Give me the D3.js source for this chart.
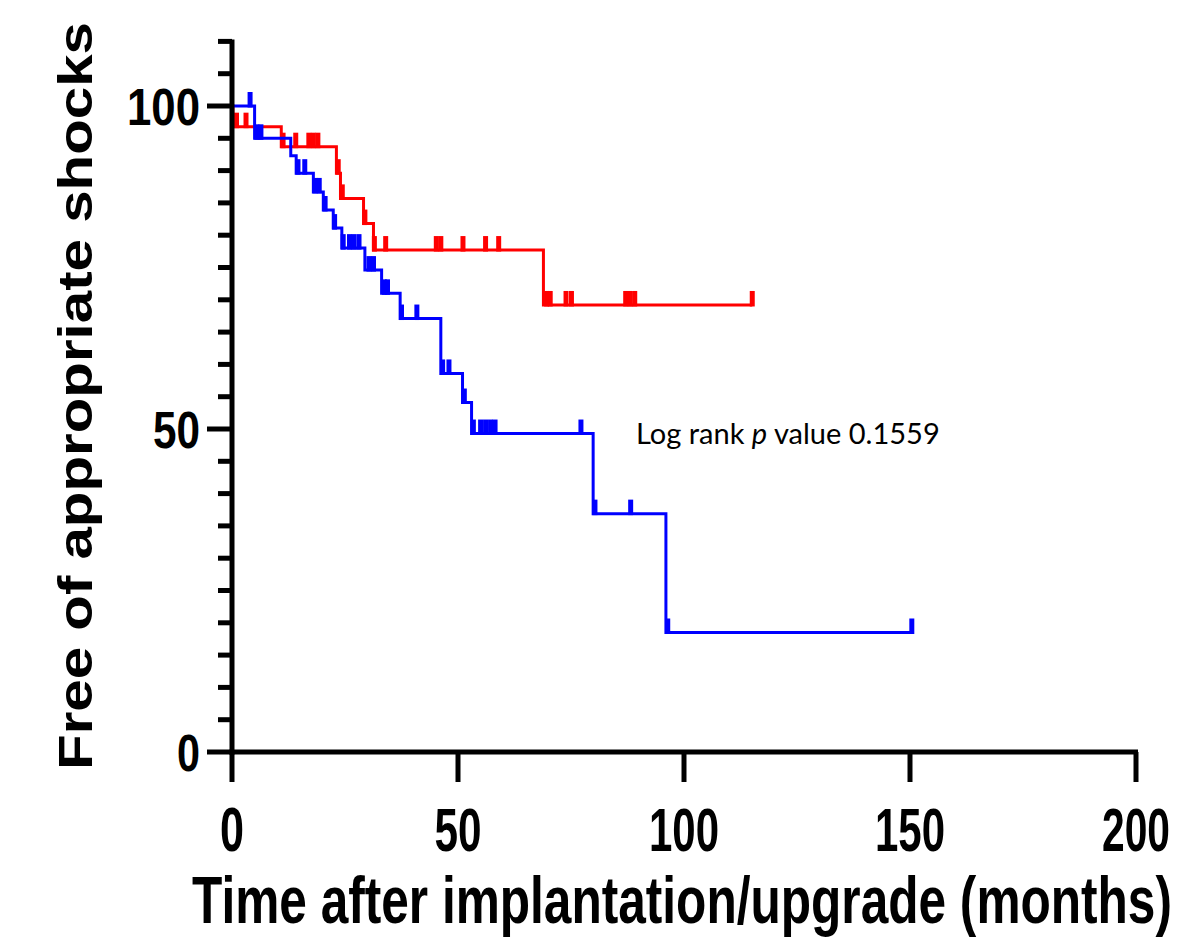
<!DOCTYPE html>
<html>
<head>
<meta charset="utf-8">
<script src="https://cdn.jsdelivr.net/npm/d3@7"></script>
<style>
  body { margin: 0; background: #fff; }
  svg { display: block; }
  .bold { font-family: "Liberation Sans", Arial, sans-serif; font-weight: bold; fill: #000; }
  .note { font-family: Lato, "Open Sans", sans-serif; fill: #000; }
</style>
</head>
<body>
<div id="chart"></div>
<script>
// Kaplan-Meier steps: time (months) where each level starts, and the level
var redTimes = [0, 0.2, 10.9, 23.1, 24.0, 29.1, 31.3, 68.9, 115.1];
var redSurv  = [100, 96.8, 93.7, 89.6, 85.7, 81.8, 77.7, 69.2, 69.2];
var redCensor = [1.0, 3.1, 11.3, 14.1, 17.0, 18.0, 19.0, 23.5, 24.4, 29.4, 31.5, 34.0,
                 45.2, 46.2, 51.1, 56.1, 59.0, 69.6, 70.4, 73.9, 75.1, 87.1, 88.1, 89.1, 115.1];

var blueTimes = [0, 5.0, 13.0, 14.2, 18.0, 20.2, 22.4, 24.3, 29.4, 33.1, 37.2, 46.2, 51.0, 53.0, 79.9, 96.0, 150.4];
var blueSurv  = [100, 95.0, 92.3, 89.6, 86.7, 83.9, 81.1, 78.0, 74.6, 71.0, 67.1, 58.6, 54.1, 49.3, 36.9, 18.5, 18.5];
var blueCensor = [4.0, 5.5, 6.4, 14.6, 16.1, 18.4, 19.3, 20.6, 22.7, 24.6, 26.0, 27.0, 28.1,
                  30.3, 31.3, 33.7, 34.4, 37.5, 40.9, 46.6, 48.0, 51.4, 53.4, 55.0, 56.1, 57.2, 58.2,
                  77.2, 80.3, 88.2, 96.4, 150.4];

var xTicks = [0, 50, 100, 150, 200];
var yMajor = [0, 50, 100];
var yMinor = d3.range(0, 111, 5);

var xLabelWidths = {0: 24, 50: 47, 100: 70, 150: 70, 200: 68};
var yLabelWidths = {0: 23, 50: 47, 100: 73};

var W = 1183, H = 947;

function survAt(times, surv, t) {
  var i = d3.bisectRight(times, t) - 1;
  return surv[Math.max(0, i)];
}

// sets the font so the text is `width` wide, then stretches it vertically
// so the glyphs are as tall as they would be at `size`
function fitText(parent, cls, str, tx, ty, rot, anchor, size, width) {
  var t = parent.append("text")
    .attr("class", cls)
    .attr("text-anchor", anchor)
    .attr("font-size", size)
    .text(str);
  var len = t.node().getComputedTextLength();
  var fs = size * width / len;
  t.attr("font-size", fs)
   .attr("transform", "translate(" + tx + "," + ty + ")" + (rot ? " rotate(" + rot + ")" : "") +
         " scale(1," + (size / fs) + ")");
  return t;
}

function drawChart() {
  var svg = d3.select("#chart").append("svg")
    .attr("width", W)
    .attr("height", H);

  var x = d3.scaleLinear().domain([0, 200]).range([232, 1136]);
  var y = d3.scaleLinear().domain([0, 100]).range([752, 106]);

  var line = d3.line()
    .x(function(d) { return x(d[0]); })
    .y(function(d) { return y(d[1]); })
    .curve(d3.curveStepAfter);

  var groups = [
    {times: redTimes, surv: redSurv, censor: redCensor, color: "#ff0000"},
    {times: blueTimes, surv: blueSurv, censor: blueCensor, color: "#0000ff"}
  ];

  groups.forEach(function(g) {
    var pts = g.times.map(function(t, i) { return [t, g.surv[i]]; });
    svg.append("path")
      .datum(pts)
      .attr("d", line)
      .attr("fill", "none")
      .attr("stroke", g.color)
      .attr("stroke-width", 3)
      .attr("stroke-linejoin", "miter");

    svg.selectAll(null)
      .data(g.censor)
      .enter().append("line")
        .attr("x1", function(d) { return x(d); })
        .attr("x2", function(d) { return x(d); })
        .attr("y1", function(d) { return y(survAt(g.times, g.surv, d)) + 1.5; })
        .attr("y2", function(d) { return y(survAt(g.times, g.surv, d)) - 14; })
        .attr("stroke", g.color)
        .attr("stroke-width", 5);
  });

  // axes, drawn by hand in Prism style
  var ax = svg.append("g").attr("stroke", "#000").attr("stroke-width", 5);

  ax.append("line")
    .attr("x1", x(0)).attr("x2", x(0))
    .attr("y1", y(110) - 2).attr("y2", 754.5);
  ax.append("line")
    .attr("x1", x(0) - 2.5).attr("x2", x(200) + 2)
    .attr("y1", y(0)).attr("y2", y(0));

  ax.selectAll(".ymin")
    .data(yMinor)
    .enter().append("line")
      .attr("x1", function(d) { return yMajor.indexOf(d) >= 0 ? 207 : 218; })
      .attr("x2", x(0))
      .attr("y1", function(d) { return y(d); })
      .attr("y2", function(d) { return y(d); });

  ax.selectAll(".xt")
    .data(xTicks)
    .enter().append("line")
      .attr("x1", function(d) { return x(d); })
      .attr("x2", function(d) { return x(d); })
      .attr("y1", y(0))
      .attr("y2", 782);

  // tick labels
  xTicks.forEach(function(d) {
    fitText(svg, "bold", String(d), x(d), 851, 0, "middle", 62, xLabelWidths[d]);
  });
  yMajor.forEach(function(d) {
    fitText(svg, "bold", String(d), 200, y(d) + 18.5, 0, "end", 52, yLabelWidths[d]);
  });

  // axis titles
  fitText(svg, "bold", "Time after implantation/upgrade (months)", 682, 923, 0, "middle", 67, 980);
  fitText(svg, "bold", "Free of appropriate shocks", 92, 396, -90, "middle", 49, 748);

  // log rank note
  var note = svg.append("text")
    .attr("class", "note")
    .attr("x", 636)
    .attr("y", 444)
    .attr("font-size", 27);
  note.append("tspan").text("Log rank ");
  note.append("tspan").attr("font-style", "italic").text("p");
  note.append("tspan").text(" value 0.1559");
  var nl = note.node().getComputedTextLength();
  note.attr("font-size", 27 * 304 / nl);
}

drawChart();
</script>
</body>
</html>
